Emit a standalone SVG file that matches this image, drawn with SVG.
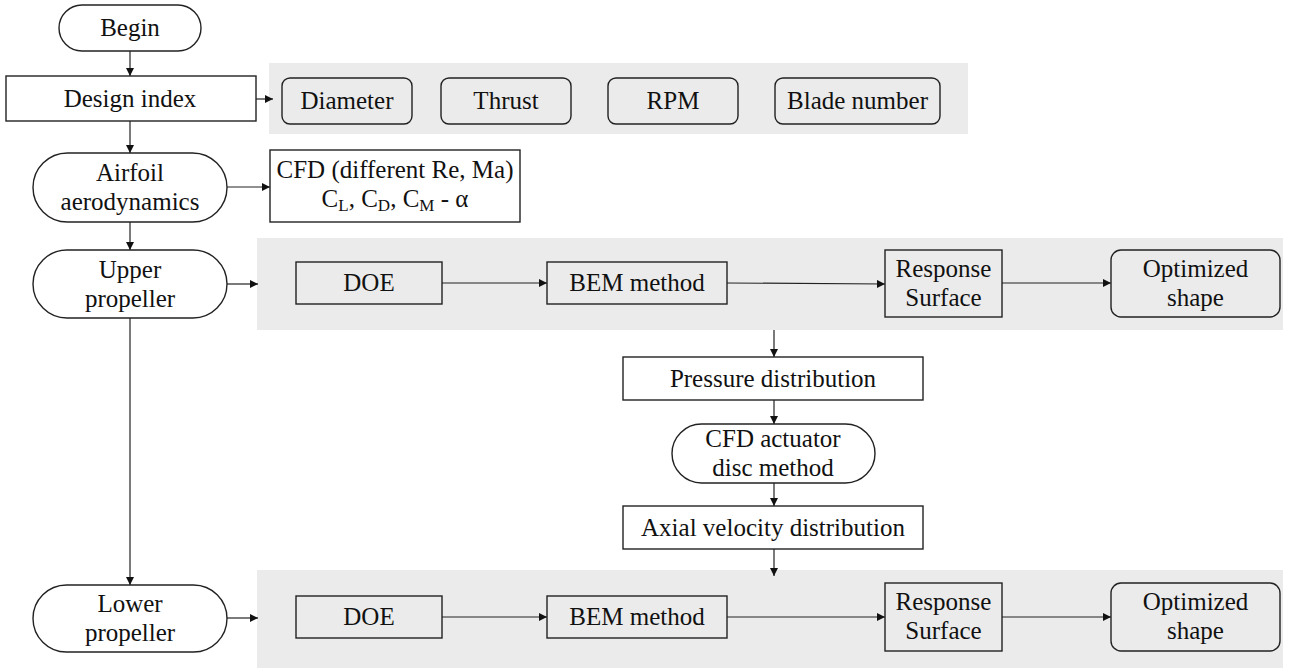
<svg xmlns="http://www.w3.org/2000/svg" width="1289" height="670" viewBox="0 0 1289 670">
  <style>
    .bg { fill: #ffffff; }
    .panel { fill: #ebebeb; stroke: none; }
    .box { fill: #ffffff; stroke: #222; stroke-width: 1.4; }
    .gbox { fill: #ebebeb; stroke: #222; stroke-width: 1.4; }
    .t { font-family: 'Liberation Serif', 'DejaVu Serif', serif; font-size: 25px; fill: #111; text-anchor: middle; }
    .sub { font-size: 17px; }
    .conn { stroke: #222; stroke-width: 1.2; fill: none; marker-end: url(#arrow); }
  </style>
  <defs>
    <marker id="arrow" viewBox="0 0 10 10" refX="10" refY="5" markerWidth="8" markerHeight="8" markerUnits="userSpaceOnUse" orient="auto">
      <path d="M0,0 L10,5 L0,10 z" fill="#111"/>
    </marker>
  </defs>

  <rect class="bg" x="0" y="0" width="1289" height="670"/>

  <!-- shaded group panels -->
  <g id="panels">
    <rect class="panel" x="269" y="63" width="699" height="71"/>
    <rect class="panel" x="257" y="238" width="1026" height="92"/>
    <rect class="panel" x="257" y="570" width="1026" height="98"/>
  </g>

  <!-- connectors -->
  <g id="connectors">
    <line class="conn" x1="130" y1="51" x2="130" y2="76"/>
    <line class="conn" x1="256" y1="99" x2="273" y2="99"/>
    <line class="conn" x1="130" y1="121" x2="130" y2="153"/>
    <line class="conn" x1="227" y1="187" x2="270" y2="187"/>
    <line class="conn" x1="130" y1="222" x2="130" y2="250"/>
    <line class="conn" x1="227" y1="284" x2="258" y2="284"/>
    <line class="conn" x1="442" y1="283" x2="547" y2="283"/>
    <line class="conn" x1="727" y1="283" x2="885" y2="284"/>
    <line class="conn" x1="1002" y1="283" x2="1111" y2="283"/>
    <line class="conn" x1="774" y1="330" x2="774" y2="357"/>
    <line class="conn" x1="774" y1="400" x2="774" y2="424"/>
    <line class="conn" x1="774" y1="483" x2="774" y2="506"/>
    <line class="conn" x1="774" y1="549" x2="774" y2="576"/>
    <line class="conn" x1="130" y1="318" x2="130" y2="585"/>
    <line class="conn" x1="227" y1="618" x2="258" y2="618"/>
    <line class="conn" x1="442" y1="617" x2="547" y2="617"/>
    <line class="conn" x1="727" y1="617" x2="885" y2="617"/>
    <line class="conn" x1="1002" y1="617" x2="1111" y2="617"/>
  </g>

  <g id="begin">
    <rect class="box" x="59" y="5" width="142" height="46" rx="23"/>
    <text class="t" x="130" y="36">Begin</text>
  </g>
  <g id="design-index">
    <rect class="box" x="6" y="76" width="250" height="45"/>
    <text class="t" x="130" y="107">Design index</text>
  </g>
  <g id="diameter">
    <rect class="gbox" x="282" y="78" width="130" height="46" rx="8"/>
    <text class="t" x="347" y="109">Diameter</text>
  </g>
  <g id="thrust">
    <rect class="gbox" x="441" y="78" width="130" height="46" rx="8"/>
    <text class="t" x="506" y="109">Thrust</text>
  </g>
  <g id="rpm">
    <rect class="gbox" x="608" y="78" width="130" height="46" rx="8"/>
    <text class="t" x="673" y="109">RPM</text>
  </g>
  <g id="blade-number">
    <rect class="gbox" x="775" y="78" width="165" height="46" rx="8"/>
    <text class="t" x="857.5" y="109">Blade number</text>
  </g>

  <g id="airfoil">
    <rect class="box" x="33" y="153" width="194" height="69" rx="34.5"/>
    <text class="t" x="130" y="181">Airfoil</text>
    <text class="t" x="130" y="210">aerodynamics</text>
  </g>
  <g id="cfd">
    <rect class="box" x="270" y="150" width="250" height="72"/>
    <text class="t" x="395" y="178">CFD (different Re, Ma)</text>
    <text class="t" x="395" y="207">C<tspan class="sub" dy="4">L</tspan><tspan dy="-4">, C</tspan><tspan class="sub" dy="4">D</tspan><tspan dy="-4">, C</tspan><tspan class="sub" dy="4">M</tspan><tspan dy="-4"> - α</tspan></text>
  </g>

  <g id="upper-propeller">
    <rect class="box" x="33" y="250" width="194" height="68" rx="34"/>
    <text class="t" x="130" y="278">Upper</text>
    <text class="t" x="130" y="307">propeller</text>
  </g>
  <g id="upper-doe">
    <rect class="gbox" x="296" y="262" width="146" height="42"/>
    <text class="t" x="369" y="291">DOE</text>
  </g>
  <g id="upper-bem">
    <rect class="gbox" x="547" y="262" width="180" height="42"/>
    <text class="t" x="637" y="291">BEM method</text>
  </g>
  <g id="upper-response">
    <rect class="gbox" x="885" y="250" width="117" height="67"/>
    <text class="t" x="943.5" y="277">Response</text>
    <text class="t" x="943.5" y="306">Surface</text>
  </g>
  <g id="upper-optimized">
    <rect class="gbox" x="1111" y="250" width="169" height="67" rx="10"/>
    <text class="t" x="1195.5" y="277">Optimized</text>
    <text class="t" x="1195.5" y="306">shape</text>
  </g>

  <g id="pressure">
    <rect class="box" x="623" y="357" width="300" height="43"/>
    <text class="t" x="773" y="387">Pressure distribution</text>
  </g>
  <g id="actuator-disc">
    <rect class="box" x="672" y="424" width="203" height="59" rx="29.5"/>
    <text class="t" x="773" y="447">CFD actuator</text>
    <text class="t" x="773" y="476">disc method</text>
  </g>
  <g id="axial-velocity">
    <rect class="box" x="623" y="506" width="300" height="43"/>
    <text class="t" x="773" y="536">Axial velocity distribution</text>
  </g>

  <g id="lower-propeller">
    <rect class="box" x="33" y="585" width="194" height="67" rx="33.5"/>
    <text class="t" x="130" y="612">Lower</text>
    <text class="t" x="130" y="641">propeller</text>
  </g>
  <g id="lower-doe">
    <rect class="gbox" x="296" y="596" width="146" height="42"/>
    <text class="t" x="369" y="625">DOE</text>
  </g>
  <g id="lower-bem">
    <rect class="gbox" x="547" y="596" width="180" height="42"/>
    <text class="t" x="637" y="625">BEM method</text>
  </g>
  <g id="lower-response">
    <rect class="gbox" x="885" y="583" width="117" height="68"/>
    <text class="t" x="943.5" y="610">Response</text>
    <text class="t" x="943.5" y="639">Surface</text>
  </g>
  <g id="lower-optimized">
    <rect class="gbox" x="1111" y="583" width="169" height="68" rx="10"/>
    <text class="t" x="1195.5" y="610">Optimized</text>
    <text class="t" x="1195.5" y="639">shape</text>
  </g>
</svg>
